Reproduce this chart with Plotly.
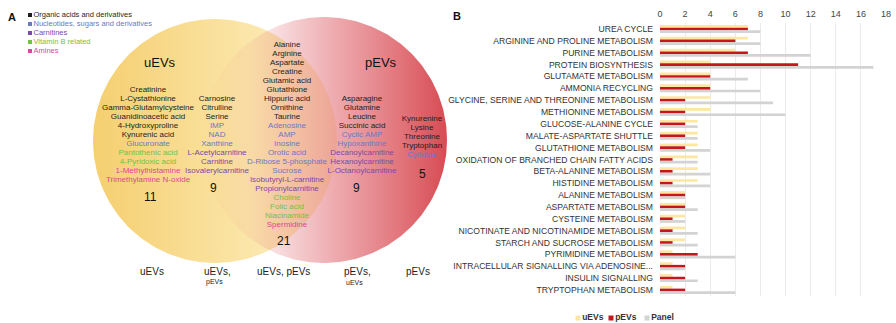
import numpy as np
import plotly.graph_objects as go

# ---------------- data ----------------
pathways = [
    "UREA CYCLE", "ARGININE AND PROLINE METABOLISM", "PURINE METABOLISM",
    "PROTEIN BIOSYNTHESIS", "GLUTAMATE METABOLISM", "AMMONIA RECYCLING",
    "GLYCINE, SERINE AND THREONINE METABOLISM", "METHIONINE METABOLISM",
    "GLUCOSE-ALANINE CYCLE", "MALATE-ASPARTATE SHUTTLE", "GLUTATHIONE METABOLISM",
    "OXIDATION OF BRANCHED CHAIN FATTY ACIDS", "BETA-ALANINE METABOLISM",
    "HISTIDINE METABOLISM", "ALANINE METABOLISM", "ASPARTATE METABOLISM",
    "CYSTEINE METABOLISM", "NICOTINATE AND NICOTINAMIDE METABOLISM",
    "STARCH AND SUCROSE METABOLISM", "PYRIMIDINE METABOLISM",
    "INTRACELLULAR SIGNALLING VIA ADENOSINE...", "INSULIN SIGNALLING",
    "TRYPTOPHAN METABOLISM",
]
uevs_vals = [7, 7, 6, 4, 4, 4, 4, 4, 3, 3, 3, 3, 3, 3, 2, 2, 2, 2, 2, 1, 1, 1, 1]
pevs_vals = [7, 6, 7, 11, 4, 4, 2, 2, 2, 2, 2, 1, 1, 1, 2, 2, 1, 1, 1, 3, 2, 2, 2]
panel_vals = [8, 8, 12, 17, 7, 8, 9, 10, 3, 3, 4, 3, 4, 4, 2, 3, 2, 3, 3, 6, 2, 3, 6]
x_ticks = [0, 2, 4, 6, 8, 10, 12, 14, 16, 18]

series_names = ["uEVs", "pEVs", "Panel"]

class_names = ["Organic acids and derivatives", "Nucleotides, sugars and derivatives",
               "Carnitines", "Vitamin B related", "Amines"]
class_keys = ["O", "N", "C", "V", "A"]

group_uevs = [("Creatinine", "O"), ("L-Cystathionine", "O"), ("Gamma-Glutamylcysteine", "O"),
              ("Guanidinoacetic acid", "O"), ("4-Hydroxyproline", "O"), ("Kynurenic acid", "O"),
              ("Glucuronate", "N"), ("Pantothenic acid", "V"), ("4-Pyridoxic acid", "V"),
              ("1-Methylhistamine", "A"), ("Trimethylamine N-oxide", "A")]
group_uevs_p = [("Carnosine", "O"), ("Citrulline", "O"), ("Serine", "O"), ("IMP", "N"),
                ("NAD", "N"), ("Xanthine", "N"), ("L-Acetylcarnitine", "C"),
                ("Carnitine", "C"), ("Isovalerylcarnitine", "C")]
group_both = [("Alanine", "O"), ("Arginine", "O"), ("Aspartate", "O"), ("Creatine", "O"),
              ("Glutamic acid", "O"), ("Glutathione", "O"), ("Hippuric acid", "O"),
              ("Ornithine", "O"), ("Taurine", "O"), ("Adenosine", "N"), ("AMP", "N"),
              ("Inosine", "N"), ("Orotic acid", "N"), ("D-Ribose 5-phosphate", "N"),
              ("Sucrose", "N"), ("Isobutyryl-L-carnitine", "C"), ("Propionylcarnitine", "C"),
              ("Choline", "V"), ("Folic acid", "V"), ("Niacinamide", "V"), ("Spermidine", "A")]
group_pevs_u = [("Asparagine", "O"), ("Glutamine", "O"), ("Leucine", "O"),
                ("Succinic acid", "O"), ("Cyclic AMP", "N"), ("Hypoxanthine", "N"),
                ("Decanoylcarnitine", "C"), ("Hexanoylcarnitine", "C"),
                ("L-Octanoylcarnitine", "C")]
group_pevs = [("Kynurenine", "O"), ("Lysine", "O"), ("Threonine", "O"),
              ("Tryptophan", "O"), ("Cytidine", "N")]
group_counts = ["11", "9", "21", "9", "5"]

# ---------------- styles ----------------
FONT = "Arial, Liberation Sans, sans-serif"
class_colors = {"O": "#1e1e1e", "N": "#6b78c6", "C": "#7a4aa8", "V": "#72c245", "A": "#e0469a"}
bar_colors = ["#fde7a0", "#c4161c", "#d3d3d3"]

W, H = 896, 323
fig = go.Figure()

# ---------------- Venn (pixel-coordinate axes x/y) ----------------
theta = np.linspace(0, 2 * np.pi, 240)
yc = dict(cx=215, cy=141, r=122)
rc = dict(cx=324, cy=140, r=123)

fig.add_trace(go.Scatter(
    x=yc["cx"] + yc["r"] * np.cos(theta), y=yc["cy"] + yc["r"] * np.sin(theta),
    mode="lines", line=dict(width=0), fill="toself",
    fillgradient=dict(type="horizontal", start=yc["cx"] - yc["r"], stop=yc["cx"] + yc["r"],
                      colorscale=[[0, "rgb(245,207,112)"], [0.55, "rgb(250,226,160)"],
                                  [1, "rgb(253,243,208)"]]),
    hoverinfo="skip", showlegend=False, xaxis="x", yaxis="y"))
fig.add_trace(go.Scatter(
    x=rc["cx"] + rc["r"] * np.cos(theta), y=rc["cy"] + rc["r"] * np.sin(theta),
    mode="lines", line=dict(width=0), fill="toself",
    fillgradient=dict(type="horizontal", start=rc["cx"] - rc["r"], stop=rc["cx"] + rc["r"],
                      colorscale=[[0, "rgba(222,90,100,0)"], [0.2, "rgba(222,90,100,0.08)"],
                                  [0.55, "rgba(220,84,92,0.5)"], [1, "rgba(214,70,78,0.97)"]]),
    hoverinfo="skip", showlegend=False, xaxis="x", yaxis="y"))

# metabolite lists
groups = [(group_uevs, 148, 90), (group_uevs_p, 217, 99), (group_both, 287, 45),
          (group_pevs_u, 362, 99), (group_pevs, 422, 119)]
count_pos = [(150, 197), (213, 188), (284, 241), (356, 188), (422, 174)]
for (grp, cx, y0), cnt, (px, py) in zip(groups, group_counts, count_pos):
    names = [g[0] for g in grp]
    cols = [class_colors[g[1]] for g in grp]
    fig.add_trace(go.Scatter(
        x=[cx] * len(names), y=[y0 + 9 * i for i in range(len(names))],
        mode="text", text=names, textposition="middle center",
        textfont=dict(family=FONT, size=8, color=cols),
        hoverinfo="skip", showlegend=False, xaxis="x", yaxis="y"))
    fig.add_annotation(x=px, y=py, xref="x", yref="y", text=cnt, showarrow=False,
                       font=dict(family=FONT, size=12, color="#111"))

fig.add_annotation(x=160, y=62, xref="x", yref="y", text="uEVs", showarrow=False,
                   font=dict(family=FONT, size=13, color="#111"))
fig.add_annotation(x=381, y=62, xref="x", yref="y", text="pEVs", showarrow=False,
                   font=dict(family=FONT, size=13, color="#111"))

# bottom labels
for (bx, main, sub) in [(152, "uEVs", ""), (217, "uEVs,", "pEVs"), (283, "uEVs, pEVs", ""),
                        (357, "pEVs,", "uEVs"), (418, "pEVs", "")]:
    fig.add_annotation(x=bx, y=271, xref="x", yref="y", text=main, showarrow=False,
                       font=dict(family=FONT, size=10, color="#222"))
    if sub:
        fig.add_annotation(x=bx - 3, y=282, xref="x", yref="y", text=sub, showarrow=False,
                           font=dict(family=FONT, size=7, color="#222"))

# class key
fig.add_trace(go.Scatter(
    x=[30] * 5, y=[15 + 9 * i for i in range(5)], mode="markers+text",
    marker=dict(symbol="square", size=4, color=[class_colors[k] for k in class_keys]),
    text=class_names, textposition="middle right",
    textfont=dict(family=FONT, size=7.5, color=[class_colors[k] for k in class_keys]),
    hoverinfo="skip", showlegend=False, xaxis="x", yaxis="y"))

# panel letters
fig.add_annotation(x=12, y=17, xref="x", yref="y", text="<b>A</b>", showarrow=False,
                   font=dict(family=FONT, size=11, color="#111"))
fig.add_annotation(x=457, y=16, xref="x", yref="y", text="<b>B</b>", showarrow=False,
                   font=dict(family=FONT, size=11, color="#111"))

# bar legend (manual, small squares)
fig.add_trace(go.Scatter(
    x=[578, 611, 647], y=[318, 318, 318], mode="markers+text",
    marker=dict(symbol="square", size=5, color=bar_colors),
    text=series_names, textposition="middle right",
    textfont=dict(family=FONT, size=8.5, color="#333", weight="bold"),
    hoverinfo="skip", showlegend=False, xaxis="x", yaxis="y"))

# ---------------- bars (x2/y2) ----------------
for name, vals, col in zip(series_names, [uevs_vals, pevs_vals, panel_vals], bar_colors):
    fig.add_trace(go.Bar(x=vals, y=pathways, orientation="h", name=name,
                         marker=dict(color=col, line=dict(width=0)),
                         showlegend=False, xaxis="x2", yaxis="y2"))

row_top, row_h = 23.1, 11.86
y_dom = [1 - (row_top + 23 * row_h) / H, 1 - row_top / H]

fig.update_layout(
    width=W, height=H, margin=dict(l=0, r=0, t=0, b=0),
    paper_bgcolor="white", plot_bgcolor="rgba(0,0,0,0)",
    barmode="group", bargap=0.32, bargroupgap=0,
    showlegend=False,
    font=dict(family=FONT),
    xaxis=dict(domain=[0, 1], range=[0, W], visible=False, fixedrange=True),
    yaxis=dict(domain=[0, 1], range=[H, 0], visible=False, fixedrange=True),
    xaxis2=dict(domain=[660 / W, 886 / W], range=[0, 18], side="top", anchor="y2",
                tickvals=x_ticks, showgrid=True, gridcolor="#ebebeb", gridwidth=1,
                zeroline=False, showline=False, ticks="", ticklabelstandoff=3,
                tickfont=dict(family=FONT, size=9, color="#444"), automargin=False),
    yaxis2=dict(domain=y_dom, anchor="x2", autorange="reversed", showgrid=False,
                zeroline=False, showline=False, ticks="", ticklabelstandoff=6,
                tickfont=dict(family=FONT, size=8.6, color="#333"), automargin=False),
)

fig.write_html("out.html")
